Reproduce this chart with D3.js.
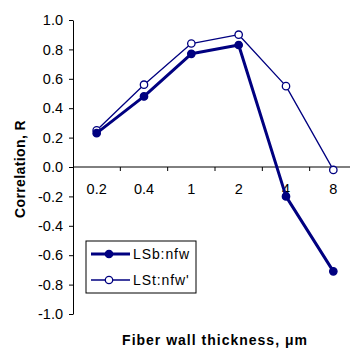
<!DOCTYPE html>
<html>
<head>
<meta charset="utf-8">
<script src="https://cdn.jsdelivr.net/npm/d3@7"></script>
<style>
  body { margin: 0; background: #fff; }
  svg text { font-family: "Liberation Sans", Arial, sans-serif; }
</style>
</head>
<body>
<div id="chart"></div>
<script>
// data
var categories = ["0.2", "0.4", "1", "2", "4", "8"];
var lsbValues = [0.23, 0.48, 0.77, 0.83, -0.20, -0.71];
var lstValues = [0.25, 0.56, 0.84, 0.90, 0.55, -0.02];
var yTicks = [1.0, 0.8, 0.6, 0.4, 0.2, 0.0, -0.2, -0.4, -0.6, -0.8, -1.0];
var seriesNames = ["LSb:nfw", "LSt:nfw'"];

var svgWidth = 350;
var svgHeight = 349;

var margin = { top: 20, right: -7, bottom: 35, left: 73 };
var chartWidth = svgWidth - margin.left - margin.right;
var chartHeight = svgHeight - margin.top - margin.bottom;

var navy = "#000080";

var svg = d3.select("#chart")
    .append("svg")
    .attr("width", svgWidth)
    .attr("height", svgHeight);

var chartGroup = svg.append("g")
    .attr("transform", `translate(${margin.left},${margin.top})`);

var xScale = d3.scaleBand()
    .domain(categories)
    .range([0, chartWidth]);

var yScale = d3.scaleLinear()
    .domain([-1, 1])
    .range([chartHeight, 0]);

// x axis sits on y = 0, ticks on the band edges
var xAxisG = chartGroup.append("g")
    .attr("transform", `translate(0, ${yScale(0)})`);
xAxisG.append("line")
    .attr("x1", 0).attr("x2", chartWidth)
    .attr("stroke", "#000").attr("stroke-width", 1);
xAxisG.selectAll("line.tick")
    .data(categories.slice(1))
    .enter()
    .append("line")
    .attr("x1", d => xScale(d)).attr("x2", d => xScale(d))
    .attr("y1", 0).attr("y2", 4)
    .attr("stroke", "#000");
xAxisG.selectAll("text.lbl")
    .data(categories)
    .enter()
    .append("text")
    .attr("x", d => xScale(d) + xScale.bandwidth() / 2)
    .attr("y", 27)
    .attr("text-anchor", "middle")
    .style("font-size", "14.5px")
    .text(d => d);

// y axis
var leftAxis = d3.axisLeft(yScale)
    .tickValues(yTicks)
    .tickFormat(d3.format(".1f"))
    .tickSize(4)
    .tickSizeOuter(0);
var yAxisG = chartGroup.append("g").call(leftAxis);
yAxisG.select(".domain").attr("stroke", "#000");
yAxisG.selectAll("text")
    .style("font-size", "14.5px")
    .attr("x", -10)
    .attr("fill", "#000")
    .text(d => d3.format(".1f")(d).replace("−", "-"));

var xPos = d => xScale(d) + xScale.bandwidth() / 2;

function drawSeries(values, width, filled) {
    var line = d3.line()
        .x((d, i) => xPos(categories[i]))
        .y(d => yScale(d));
    chartGroup.append("path")
        .datum(values)
        .attr("d", line)
        .attr("fill", "none")
        .attr("stroke", navy)
        .attr("stroke-width", width)
        .attr("stroke-linejoin", "round");
    chartGroup.selectAll(null)
        .data(values)
        .enter()
        .append("circle")
        .attr("cx", (d, i) => xPos(categories[i]))
        .attr("cy", d => yScale(d))
        .attr("r", 3.7)
        .attr("fill", filled ? navy : "#fff")
        .attr("stroke", navy)
        .attr("stroke-width", 1.3);
}

drawSeries(lstValues, 1.3, false);
drawSeries(lsbValues, 3, true);

// legend
var legend = svg.append("g").attr("transform", "translate(86, 241)");
legend.append("rect")
    .attr("width", 110).attr("height", 52)
    .attr("fill", "#fff").attr("stroke", "#000").attr("stroke-width", 1);
seriesNames.forEach(function(name, i) {
    var ly = 13 + i * 26;
    legend.append("line")
        .attr("x1", 5).attr("x2", 44)
        .attr("y1", ly).attr("y2", ly)
        .attr("stroke", navy)
        .attr("stroke-width", i === 0 ? 3 : 1.3);
    legend.append("circle")
        .attr("cx", 23).attr("cy", ly).attr("r", 3.7)
        .attr("fill", i === 0 ? navy : "#fff")
        .attr("stroke", navy).attr("stroke-width", 1.3);
    legend.append("text")
        .attr("x", 47).attr("y", ly + 5)
        .style("font-size", "14px")
        .style("letter-spacing", "0.9px")
        .text(name);
});

// axis titles
svg.append("text")
    .attr("transform", "rotate(-90)")
    .attr("x", -(margin.top + chartHeight / 2) - 2)
    .attr("y", 25)
    .attr("text-anchor", "middle")
    .style("font-size", "14px")
    .style("font-weight", "bold")
    .style("letter-spacing", "0.4px")
    .text("Correlation, R");

svg.append("text")
    .attr("x", margin.left + chartWidth / 2)
    .attr("y", 345)
    .attr("text-anchor", "middle")
    .style("font-size", "14px")
    .style("font-weight", "bold")
    .style("letter-spacing", "1px")
    .text("Fiber wall thickness, μm");
</script>
</body>
</html>
